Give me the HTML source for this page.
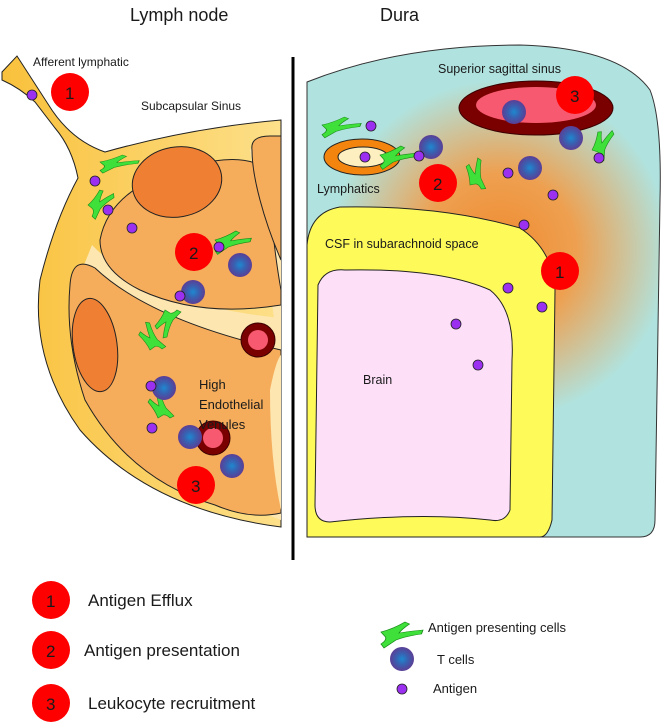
<!DOCTYPE html>
<html><head><meta charset="utf-8"><style>
html,body{margin:0;padding:0;background:#fff}
svg{display:block}
text{font-family:"Liberation Sans",sans-serif;fill:#1a1a1a}
</style></head><body>
<svg width="661" height="723" viewBox="0 0 661 723" xmlns="http://www.w3.org/2000/svg">
<defs>
<radialGradient id="tc" cx="0.5" cy="0.5" r="0.5"><stop offset="0" stop-color="#1e88d0"/><stop offset="0.5" stop-color="#3a5fb0"/><stop offset="1" stop-color="#5b3f96"/></radialGradient>
<radialGradient id="dg" cx="500" cy="250" r="170" gradientUnits="userSpaceOnUse"><stop offset="0" stop-color="#f08a30"/><stop offset="0.45" stop-color="#eea050"/><stop offset="1" stop-color="#b0e3df"/></radialGradient>
<linearGradient id="cap" x1="0" y1="0" x2="1" y2="0"><stop offset="0" stop-color="#f9c13c"/><stop offset="1" stop-color="#fde08a"/></linearGradient>
<g id="apc"><path d="M0,0 Q8,-3 16,-10 L19,-8 Q14,-3 12,1 Q20,-1 28,-2 L27,2 Q17,4 10,8 Q6,12 2,16 L0,12 Q4,8 3,5 Z" fill="#3fe03a" stroke="#1a8a1a" stroke-width="0.6"/></g>
<g id="tcell"><circle r="12" fill="url(#tc)"/></g>
<g id="ag"><circle r="5" fill="#9b30f0" stroke="#222" stroke-width="0.8"/></g>
</defs>

<text x="130" y="21" font-size="18">Lymph node</text>
<text x="380" y="21" font-size="18">Dura</text>
<line x1="293" y1="57" x2="293" y2="560" stroke="#000" stroke-width="3"/>

<!-- Lymph node -->
<path d="M2,72 L17,56 L48,104 Q70,140 105,152 Q190,128 281,120 L281,527 Q150,510 80,430 Q30,360 40,280 Q55,220 78,178 Q72,148 55,128 L35,102 Q20,88 2,80 Z" fill="url(#cap)" stroke="#222" stroke-width="1"/>
<path d="M250,150 Q255,138 281,136 L281,520 L260,512 Q270,420 280,360 Z" fill="#fde6b0" stroke="none"/>
<path d="M92,245 Q150,305 281,318 L281,362 Q150,335 78,280 Z" fill="#fde6b0"/>
<path d="M100,240 Q110,185 195,165 Q245,152 268,170 Q272,240 281,290 L281,305 Q200,318 140,290 Q100,270 100,240 Z" fill="#f5ad5c" stroke="#222" stroke-width="1"/>
<path d="M252,150 Q250,136 270,136 L281,136 L281,260 Q268,230 260,200 Q252,170 252,150 Z" fill="#f5ad5c" stroke="#222" stroke-width="1"/>
<path d="M70,285 Q72,255 95,268 Q150,320 281,350 L281,513 Q250,520 215,505 Q130,480 85,400 Q65,340 70,285 Z" fill="#f5ad5c" stroke="#222" stroke-width="1"/>
<path d="M270,390 Q276,360 281,355 L281,510 Q270,460 270,390 Z" fill="#fde6b0"/>
<ellipse cx="177" cy="182" rx="45" ry="35" transform="rotate(-10 177 182)" fill="#ef7f33" stroke="#222" stroke-width="1"/>
<ellipse cx="95" cy="345" rx="22" ry="47" transform="rotate(-8 95 345)" fill="#ef7f33" stroke="#222" stroke-width="1"/>
<circle cx="258" cy="340" r="17" fill="#7a0000" stroke="#3a0000"/><circle cx="258" cy="340" r="10" fill="#f75a70"/>
<circle cx="213" cy="438" r="17" fill="#7a0000" stroke="#3a0000"/><circle cx="213" cy="438" r="10" fill="#f75a70"/>
<use href="#apc" transform="translate(100,162) scale(1.4,0.7)"/>
<use href="#apc" transform="translate(88,205) rotate(-20)"/>
<use href="#apc" transform="translate(215,240) scale(1.3,0.9)"/>
<use href="#apc" transform="translate(165,310) rotate(-90) scale(-1,1)"/>
<use href="#apc" transform="translate(150,350) rotate(-95)"/>
<use href="#apc" transform="translate(158,418) rotate(-90)"/>
<use href="#tcell" x="240" y="265"/><use href="#tcell" x="193" y="292"/><use href="#tcell" x="164" y="388"/>
<use href="#tcell" x="190" y="437"/><use href="#tcell" x="232" y="466"/>
<use href="#ag" x="32" y="95"/><use href="#ag" x="95" y="181"/><use href="#ag" x="108" y="210"/><use href="#ag" x="132" y="228"/>
<use href="#ag" x="219" y="247"/><use href="#ag" x="180" y="296"/><use href="#ag" x="151" y="386"/><use href="#ag" x="152" y="428"/>
<circle cx="70" cy="92" r="19" fill="#f00"/><text x="65" y="99" font-size="17">1</text>
<circle cx="194" cy="252" r="19" fill="#f00"/><text x="189" y="259" font-size="17">2</text>
<circle cx="196" cy="485" r="19" fill="#f00"/><text x="191" y="492" font-size="17">3</text>
<text x="33" y="66" font-size="12">Afferent lymphatic</text>
<text x="141" y="110" font-size="12">Subcapsular Sinus</text>
<text x="199" y="389" font-size="13">High</text>
<text x="199" y="409" font-size="13">Endothelial</text>
<text x="199" y="429" font-size="13">Venules</text>

<!-- Dura -->
<path d="M307,82 Q400,45 520,45 Q620,48 650,90 Q662,120 660,200 L655,520 Q655,537 640,537 L307,537 Z" fill="url(#dg)" stroke="#333" stroke-width="1"/>
<path d="M307,245 Q310,212 340,207 Q440,205 520,228 Q553,250 555,290 L552,520 Q548,537 540,537 L307,537 Z" fill="#fefa5a" stroke="#222" stroke-width="1"/>
<path d="M318,285 Q325,268 345,270 Q440,268 490,290 Q515,310 512,360 L510,510 Q505,523 490,520 Q420,512 330,522 Q315,522 315,505 Z" fill="#fde0f8" stroke="#222" stroke-width="1"/>
<ellipse cx="536" cy="108" rx="77" ry="27" fill="#7a0000" stroke="#3a0000"/>
<ellipse cx="536" cy="105" rx="60" ry="18" fill="#f75a70"/>
<ellipse cx="362" cy="157" rx="38" ry="18" fill="#f3850e" stroke="#222"/>
<ellipse cx="363" cy="157" rx="25" ry="10" fill="#fdefc0" stroke="#222"/>
<use href="#apc" transform="translate(322,125) scale(1.4,0.8)"/>
<use href="#apc" transform="translate(380,155) scale(1.3,0.9)"/>
<use href="#apc" transform="translate(470,185) rotate(-70)"/>
<use href="#apc" transform="translate(592,150) rotate(-40)"/>
<use href="#tcell" x="514" y="112"/><use href="#tcell" x="571" y="138"/><use href="#tcell" x="530" y="168"/><use href="#tcell" x="431" y="147"/>
<use href="#ag" x="371" y="126"/><use href="#ag" x="365" y="157"/><use href="#ag" x="419" y="156"/><use href="#ag" x="508" y="173"/>
<use href="#ag" x="599" y="158"/><use href="#ag" x="553" y="195"/><use href="#ag" x="524" y="225"/><use href="#ag" x="508" y="288"/>
<use href="#ag" x="542" y="307"/><use href="#ag" x="456" y="324"/><use href="#ag" x="478" y="365"/>
<circle cx="575" cy="95" r="19" fill="#f00"/><text x="570" y="102" font-size="17">3</text>
<circle cx="438" cy="183" r="19" fill="#f00"/><text x="433" y="190" font-size="17">2</text>
<circle cx="560" cy="271" r="19" fill="#f00"/><text x="555" y="278" font-size="17">1</text>
<text x="438" y="73" font-size="12.5">Superior sagittal sinus</text>
<text x="317" y="193" font-size="12.5">Lymphatics</text>
<text x="325" y="248" font-size="12.5">CSF in subarachnoid space</text>
<text x="363" y="384" font-size="12.5">Brain</text>

<!-- Legend -->
<circle cx="51" cy="600" r="19" fill="#f00"/><text x="46" y="607" font-size="17">1</text>
<circle cx="51" cy="650" r="19" fill="#f00"/><text x="46" y="657" font-size="17">2</text>
<circle cx="51" cy="703" r="19" fill="#f00"/><text x="46" y="710" font-size="17">3</text>
<text x="88" y="606" font-size="17">Antigen Efflux</text>
<text x="84" y="656" font-size="17">Antigen presentation</text>
<text x="88" y="709" font-size="17">Leukocyte recruitment</text>
<use href="#apc" transform="translate(381,632) scale(1.5,1)"/>
<text x="428" y="632" font-size="13">Antigen presenting cells</text>
<use href="#tcell" x="402" y="659"/>
<text x="437" y="664" font-size="13">T cells</text>
<use href="#ag" x="402" y="689"/>
<text x="433" y="693" font-size="13">Antigen</text>
</svg>
</body></html>
